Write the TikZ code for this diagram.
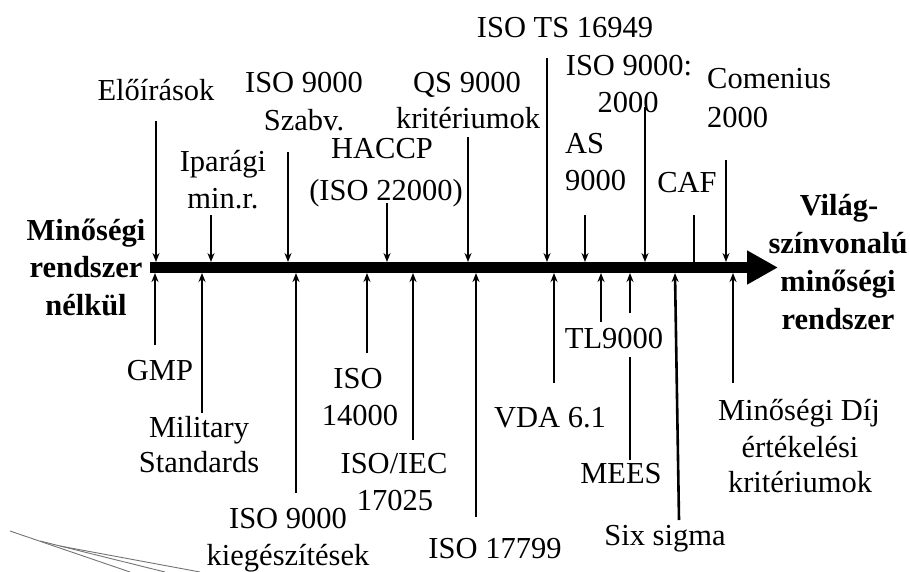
\documentclass[tikz,border=0pt]{standalone}
\usepackage{fontspec}
\setmainfont{Liberation Serif}
\usetikzlibrary{arrows.meta}
\begin{document}
\begin{tikzpicture}[x=1pt,y=-1pt,
  lbl/.style={inner sep=0pt, anchor=base, font=\fontsize{30.5}{36}\selectfont},
  lbll/.style={lbl, anchor=base west},
  blbl/.style={inner sep=0pt, anchor=base, font=\fontsize{30.5}{36}\selectfont\bfseries},
  pin/.style={line width=2.6pt, -{Stealth[length=9pt,width=7pt]}},
  stem/.style={line width=2.6pt},
  axisline/.style={line width=11pt, -{Triangle[length=31pt,width=32pt]}},
  smear/.style={draw=black!55, line width=0.9pt},
]
\useasboundingbox (0,0) rectangle (910,571);

% axis
\coordinate (ax0) at (150,267.5);
\coordinate (ax1) at (778,267.5);
\coordinate (axtop) at (0,262);
\coordinate (axbot) at (0,273);
\draw[axisline] (ax0) -- (ax1);

% end labels
\node[blbl] (l1) at (86,240) {Minőségi};
\node[blbl] (l2) at (86,277) {rendszer};
\node[blbl] (l3) at (86,315) {nélkül};
\node[blbl] (r1) at (839,215) {Világ-};
\node[blbl] (r2) at (838,253) {színvonalú};
\node[blbl] (r3) at (838,291) {minőségi};
\node[blbl] (r4) at (838,329) {rendszer};

% ---- top labels ----
\node[lbl] (a1) at (156,100) {Előírások};
\node[lbl] (b1) at (223,171) {Iparági};
\node[lbl] (b2) at (223,208) {min.r.};
\node[lbl] (c1) at (304,92) {ISO 9000};
\node[lbl] (c2) at (304,130) {Szabv.};
\node[lbl] (d1) at (382,158) {HACCP};
\node[lbl] (d2) at (386,200) {(ISO 22000)};
\node[lbl] (e1) at (467,92) {QS 9000};
\node[lbl] (e2) at (468,128) {kritériumok};
\node[lbl] (f1) at (565,37) {ISO TS 16949};
\node[lbl] (g1) at (629,75) {ISO 9000:};
\node[lbl] (g2) at (628,112) {2000};
\node[lbll] (h1) at (565,153) {AS};
\node[lbll] (h2) at (565,190) {9000};
\node[lbl] (i1) at (687,192) {CAF};
\node[lbll] (j1) at (707,88) {Comenius};
\node[lbll] (j2) at (707,127) {2000};

% top arrows
\coordinate (ta) at (156,121);
\coordinate (tb) at (211,215);
\coordinate (tc) at (288,152);
\coordinate (td) at (387,203);
\coordinate (te) at (468,137);
\coordinate (tf) at (547,58);
\coordinate (th) at (585,215);
\coordinate (tg) at (645,107);
\coordinate (ti) at (694,215);
\coordinate (tj) at (726,160);
\foreach \p in {ta,tb,tc,td,te,tf,th,tg,tj}
  \draw[pin] (\p) -- (\p |- axtop);
\draw[stem] (ti) -- (ti |- axtop);

% ---- bottom labels ----
\node[lbl] (m1) at (160,380) {GMP};
\node[lbl] (n1) at (199,437) {Military};
\node[lbl] (n2) at (199,472) {Standards};
\node[lbl] (o1) at (288,528) {ISO 9000};
\node[lbl] (o2) at (288,565) {kiegészítések};
\node[lbl] (p1) at (358,388) {ISO};
\node[lbl] (p2) at (360,425) {14000};
\node[lbl] (q1) at (394,473) {ISO/IEC};
\node[lbl] (q2) at (395,510) {17025};
\node[lbl] (s1) at (495,558) {ISO 17799};
\node[lbl] (u1) at (550,427) {VDA 6.1};
\node[lbl] (v1) at (614,348) {TL9000};
\node[lbl] (w1) at (621,483) {MEES};
\node[lbl] (x1) at (665,545) {Six sigma};
\node[lbl] (y1) at (799,420) {Minőségi Díj};
\node[lbl] (y2) at (800,457) {értékelési};
\node[lbl] (y3) at (800,492) {kritériumok};

% bottom arrows
\coordinate (bm) at (155,345);
\coordinate (bn) at (202,413);
\coordinate (bo) at (296,493);
\coordinate (bp) at (367,353);
\coordinate (bq) at (413,440);
\coordinate (bs) at (476,517);
\coordinate (bu) at (554,383);
\coordinate (bv) at (601,322);
\coordinate (bw) at (630,313);
\coordinate (by) at (733,383);
\foreach \p in {bm,bn,bo,bp,bq,bs,bu,bv,bw,by}
  \draw[pin] (\p) -- (\p |- axbot);
\coordinate (bwlow) at (630,460);
\coordinate (bwhigh) at (630,357);
\draw[stem] (bwlow) -- (bwhigh);
\coordinate (bx) at (679,520);
\coordinate (bxtop) at (675,273);
\draw[pin] (bx) -- (bxtop);

% faint stray strokes bottom left
\coordinate (s0) at (10,531);
\coordinate (s1e) at (130,572);
\coordinate (s2a) at (40,541);
\coordinate (s2e) at (165,572);
\coordinate (s3a) at (60,546);
\coordinate (s3e) at (200,572);
\draw[smear] (s0) -- (s1e);
\draw[smear] (s2a) -- (s2e);
\draw[smear] (s3a) -- (s3e);
\end{tikzpicture}
\end{document}
